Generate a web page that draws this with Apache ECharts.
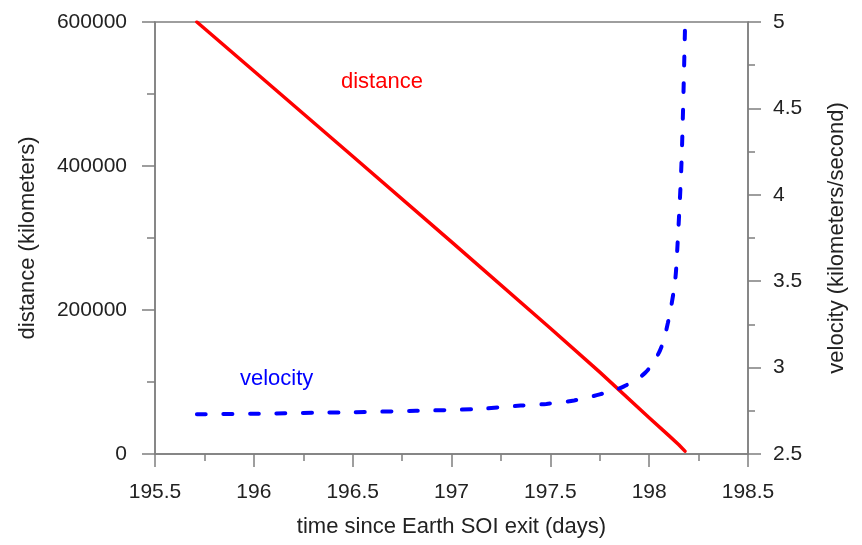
<!DOCTYPE html>
<html>
<head>
<meta charset="utf-8">
<script src="https://cdn.jsdelivr.net/npm/echarts@6/dist/echarts.min.js"></script>
<style>
  html, body { margin: 0; padding: 0; background: #ffffff; }
  #chart { width: 862px; height: 545px; }
</style>
</head>
<body>
<div id="chart"></div>
<script>
// time since Earth SOI exit (days)
var distanceTime = [195.712, 196.0, 196.5, 197.0, 197.5, 197.75, 198.0, 198.1, 198.15, 198.181];
// distance (kilometers)
var distanceKm = [600000, 532000, 413600, 294700, 174600, 113700, 50400, 25500, 12800, 4000];

var velocityTime = [195.712, 196.0, 196.5, 196.82, 197.12, 197.35, 197.48, 197.62, 197.75, 197.87, 197.98, 198.055, 198.095, 198.13, 198.142, 198.164, 198.181];
// velocity (kilometers/second)
var velocityKms = [2.73, 2.733, 2.742, 2.75, 2.76, 2.78, 2.79, 2.81, 2.845, 2.89, 2.97, 3.10, 3.26, 3.49, 3.68, 4.2, 4.95];

var xTicks = [195.5, 198.5];
var distTicks = [0, 600000];
var velTicks = [2.5, 5];

function pairs(xs, ys) {
  return xs.map(function (x, i) { return [x, ys[i]]; });
}

var axisGray = '#7f7f7f';
var textColor = '#222222';
var fontFamily = 'Liberation Sans, Arial, sans-serif';
var tickFont = 21;
var titleFont = 22;

var chart = echarts.init(document.getElementById('chart'), null, { renderer: 'canvas' });

chart.setOption({
  animation: false,
  backgroundColor: '#ffffff',
  grid: {
    left: 155, right: 114, top: 22, bottom: 91,
    show: true, borderColor: axisGray, borderWidth: 1.5
  },
  xAxis: {
    type: 'value',
    min: xTicks[0], max: xTicks[1], interval: 0.5,
    name: 'time since Earth SOI exit (days)',
    nameLocation: 'middle', nameGap: 62,
    nameTextStyle: { color: textColor, fontSize: titleFont, fontFamily: fontFamily },
    axisLine: { show: true, lineStyle: { color: axisGray, width: 1.5 } },
    axisTick: { show: true, length: 13, lineStyle: { color: axisGray, width: 1.5 } },
    minorTick: { show: true, splitNumber: 2, length: 7, lineStyle: { color: axisGray, width: 1.5 } },
    axisLabel: { color: textColor, fontSize: tickFont, fontFamily: fontFamily, margin: 28 },
    splitLine: { show: false }
  },
  yAxis: [{
    type: 'value', position: 'left',
    min: distTicks[0], max: distTicks[1], interval: 200000,
    name: 'distance (kilometers)',
    nameLocation: 'middle', nameGap: 116, nameRotate: 90,
    nameTextStyle: { color: textColor, fontSize: titleFont, fontFamily: fontFamily },
    axisLine: { show: true, lineStyle: { color: axisGray, width: 1.5 } },
    axisTick: { show: true, length: 13, lineStyle: { color: axisGray, width: 1.5 } },
    minorTick: { show: true, splitNumber: 2, length: 8, lineStyle: { color: axisGray, width: 1.5 } },
    axisLabel: {
      color: textColor, fontSize: tickFont, fontFamily: fontFamily, margin: 28,
      formatter: function (v) { return String(v); }
    },
    splitLine: { show: false }
  }, {
    type: 'value', position: 'right',
    min: velTicks[0], max: velTicks[1], interval: 0.5,
    name: 'velocity (kilometers/second)',
    nameLocation: 'middle', nameGap: 78, nameRotate: 90,
    nameTextStyle: { color: textColor, fontSize: titleFont, fontFamily: fontFamily },
    axisLine: { show: true, lineStyle: { color: axisGray, width: 1.5 } },
    axisTick: { show: true, length: 13, lineStyle: { color: axisGray, width: 1.5 } },
    minorTick: { show: true, splitNumber: 2, length: 7, lineStyle: { color: axisGray, width: 1.5 } },
    axisLabel: { color: textColor, fontSize: tickFont, fontFamily: fontFamily, margin: 25 },
    splitLine: { show: false }
  }],
  series: [{
    name: 'distance',
    type: 'line',
    yAxisIndex: 0,
    data: pairs(distanceTime, distanceKm),
    showSymbol: false,
    smooth: false,
    lineStyle: { color: '#ff0000', width: 3.5, cap: 'round', join: 'round' }
  }, {
    name: 'velocity',
    type: 'line',
    yAxisIndex: 1,
    data: pairs(velocityTime, velocityKms),
    showSymbol: false,
    smooth: 0.3,
    lineStyle: { color: '#0000ff', width: 4, type: [9, 17.5], cap: 'round' }
  }],
  graphic: [{
    type: 'text', left: 341, top: 71,
    style: { text: 'distance', fill: '#ff0000', fontSize: 22, fontFamily: fontFamily }
  }, {
    type: 'text', left: 240, top: 368,
    style: { text: 'velocity', fill: '#0000ff', fontSize: 22, fontFamily: fontFamily }
  }]
});
</script>
</body>
</html>
